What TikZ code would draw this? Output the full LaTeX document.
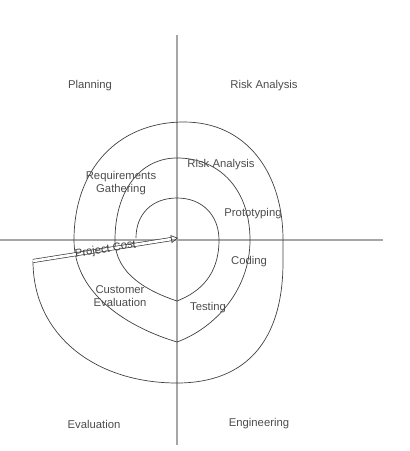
\documentclass[tikz,border=0pt]{standalone}
\usepackage{fontspec}
\setmainfont{Liberation Sans}
\usetikzlibrary{arrows.meta}
\begin{document}
\begin{tikzpicture}[x=1pt,y=-1pt,font=\fontsize{11.3}{13}\selectfont,text=black!70,
	axis/.style={black!35,line width=1.1pt},spiral/.style={black!75,line width=0.7pt}]
	%\draw[gray!15] (0,0) grid[xstep=10,ystep=10] (410,451); %Hilfsgitter
	\useasboundingbox (0,0) rectangle (410,451);
	\coordinate (O) at (178,238); \coordinate (S) at (33,261);
	\coordinate (N) at (177,35); \coordinate (Z) at (177,445); \coordinate (W) at (0,240); \coordinate (E) at (383,240);
	
	\draw[axis] (N) -- (Z); \draw[axis] (W) -- (E);
	
	\draw[spiral] (136,238) .. controls (136,214) and (152,198) .. (177,198) .. controls (202,198) and (219,215) .. (219,240)
		.. controls (219,275) and (200,292) .. (177,301) .. controls (150,292) and (115,275) .. (115,240)
		.. controls (115,191) and (140,158) .. (177,158) .. controls (221,158) and (250,191) .. (250,240)
		.. controls (250,290) and (215,328) .. (177,342) .. controls (130,328) and (74,295) .. (74,240)
		.. controls (74,169) and (118,122) .. (184,122) .. controls (246,122) and (283,172) .. (283,240)
		-- (283,262) .. controls (283,341) and (246,383) .. (177,383) .. controls (95,383) and (33,335) .. (S);
	\draw[spiral,double,double distance=2.6pt,-{Triangle[open,length=7pt,width=8pt]}] (S) --node[sloped]{Project Cost} (O);
	
	\node (P) at (90,86) {Planning}; \node (R) at (264,86) {Risk Analysis}; \node (Ev) at (94,424) {Evaluation}; \node (En) at (259,424) {Engineering};
	\node[align=center] (RG) at (121,183) {Requirements\\Gathering}; \node (RA) at (221,165) {Risk Analysis}; \node (Pr) at (253,214) {Prototyping};
	\node (Co) at (249,262) {Coding}; \node (Te) at (208,308) {Testing}; \node[align=center] (CE) at (120,296) {Customer\\Evaluation};
\end{tikzpicture}
\end{document}
